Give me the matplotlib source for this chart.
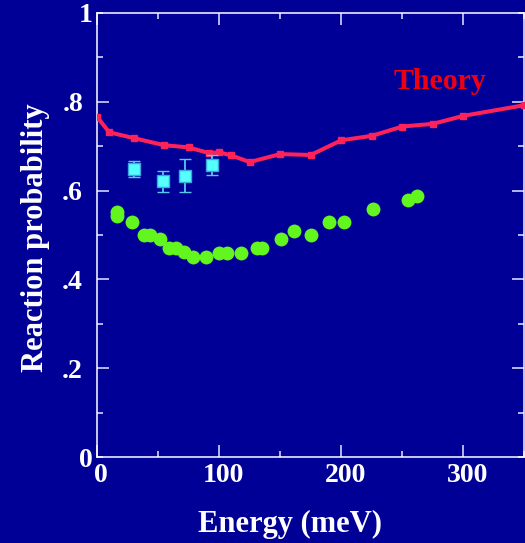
import matplotlib
matplotlib.use("Agg")
import matplotlib.pyplot as plt
import matplotlib.transforms as mtransforms
from matplotlib.ticker import MultipleLocator, FixedLocator

# Theory curve
theory_x = [0, 10, 30, 55, 75, 92, 100, 110, 125, 150, 175, 200, 225, 250, 275, 300, 350]
theory_y = [0.766, 0.731, 0.718, 0.702, 0.697, 0.684, 0.686, 0.679, 0.664, 0.682,
            0.680, 0.713, 0.723, 0.744, 0.750, 0.768, 0.792]

# Cyan squares with error bars
sq_x = [30.6, 54.4, 72.4, 93.8]
sq_y = [0.648, 0.621, 0.633, 0.657]
sq_err = [0.018, 0.024, 0.037, 0.023]

# Green circles
gr_x = [16, 16, 28.4, 38.8, 43.1, 51.9, 58.8, 65, 71.6, 78.4, 89.3, 100, 106.6, 118.3,
        130.6, 135.2, 150.4, 161.5, 175, 190.2, 202.5, 226, 254.4, 262]
gr_y = [0.551, 0.542, 0.530, 0.500, 0.500, 0.491, 0.471, 0.470, 0.461, 0.450, 0.450,
        0.459, 0.459, 0.459, 0.470, 0.470, 0.490, 0.510, 0.500, 0.530, 0.530, 0.559,
        0.579, 0.588]

ytick_vals = [0.2, 0.4, 0.6, 0.8]
ytick_labels = [".2", ".4", ".6", ".8"]
xtick_vals = [0, 100, 200, 300]
xtick_labels = ["0", "100", "200", "300"]

BG = "#000096"
TICKC = "#c4c4f0"
FONT = ["Liberation Serif", "DejaVu Serif"]

fig = plt.figure(figsize=(5.25, 5.43), dpi=100, facecolor=BG)
ax = fig.add_axes([97/525, 1 - 457.3/543, 1 - 97/525 - 0.001, (457.3 - 12.7)/543])
ax.set_facecolor(BG)

ax.plot(theory_x, theory_y, color="#ff2258", lw=2.9, marker="s", ms=5,
        clip_on=True, zorder=3)
ax.errorbar(sq_x, sq_y, yerr=sq_err, fmt="s", ms=8.5, mfc="#55ffff", mec="#3aa8d8",
            mew=1.0, ecolor="#55c8f0", elinewidth=1.3, capsize=4.3, capthick=1.3,
            zorder=4)
ax.plot(gr_x, gr_y, "o", color="#62f51e", ms=10, mec="none", zorder=4)

ax.set_xlim(0, 350)
ax.set_ylim(0, 1)

for s in ax.spines.values():
    s.set_color("white")
    s.set_linewidth(1.1)

ax.xaxis.set_major_locator(FixedLocator(xtick_vals))
ax.xaxis.set_minor_locator(MultipleLocator(50))
ax.yaxis.set_major_locator(FixedLocator(ytick_vals))
ax.yaxis.set_minor_locator(MultipleLocator(0.1))
ax.set_xticklabels(xtick_labels)
ax.set_yticklabels(ytick_labels)

ax.tick_params(which="both", direction="in", top=True, right=True, color=TICKC,
               width=1.3)
ax.tick_params(which="major", length=8.6)
ax.tick_params(which="minor", length=4.3)
ax.tick_params(axis="y", which="major", pad=10)
ax.tick_params(axis="x", which="major", pad=4)

for lab in ax.get_xticklabels() + ax.get_yticklabels():
    lab.set_fontfamily(FONT)
    lab.set_fontweight("bold")
    lab.set_fontsize(20)
    lab.set_color("white")

offset = mtransforms.ScaledTranslation(4/100, 0, fig.dpi_scale_trans)
for lab in ax.get_xticklabels():
    lab.set_transform(lab.get_transform() + offset)

# separate "1" and "0" y labels
for val, txt in [(1.0, "1"), (0.0, "0")]:
    ax.annotate(txt, xy=(0, val), xycoords=("axes fraction", "data"),
                xytext=(-3, -2.2), textcoords="offset points", ha="right", va="center",
                fontsize=20, fontweight="bold", family=FONT, color="white",
                annotation_clip=False)

ax.text(243, 0.846, "Theory", color="#ee0010", fontsize=21.5, fontweight="bold",
        family=FONT, ha="left", va="center")

fig.text(36/525, 1 - 238/543, "Reaction probability", rotation=90, ha="center",
         va="center", fontsize=22, fontweight="bold", family=FONT, color="white")
fig.text(290/525, 1 - 524/543, "Energy (meV)", ha="center", va="center",
         fontsize=22, fontweight="bold", family=FONT, color="white")

fig.savefig("out.png", dpi=100, facecolor=BG)
